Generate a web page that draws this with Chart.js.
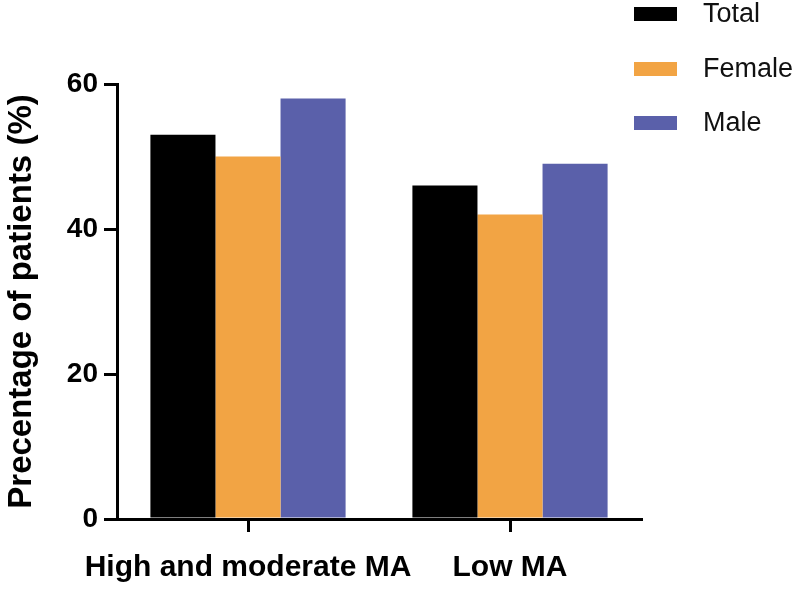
<!DOCTYPE html>
<html>
<head>
<meta charset="utf-8">
<script src="https://cdn.jsdelivr.net/npm/chart.js@4"></script>
<style>
  html, body { margin: 0; padding: 0; background: #fff; }
  #wrap { width: 800px; height: 589px; }
</style>
</head>
<body>
<div id="wrap"><canvas id="chart" width="800" height="589"></canvas></div>
<script>
// dados
const categories = ['High and moderate MA', 'Low MA'];
const seriesNames = ['Total', 'Female', 'Male'];
const totalValues = [53, 46];
const femaleValues = [50, 42];
const maleValues = [58, 49];
const yTicks = [0, 20, 40, 60];

const colors = ['#000000', '#F2A444', '#5A60AA'];
const FONT = "'Liberation Sans', Arial, Helvetica, sans-serif";

// legenda vertical no canto superior direito
const sideLegend = {
    id: 'sideLegend',
    afterDraw(chart) {
        const ctx = chart.ctx;
        const rows = [14, 69, 123];
        ctx.save();
        chart.data.datasets.forEach((ds, i) => {
            const cy = rows[i];
            ctx.fillStyle = ds.backgroundColor;
            ctx.fillRect(634, cy - 7, 43, 14);
            ctx.fillStyle = '#111';
            ctx.font = '27px ' + FONT;
            ctx.textBaseline = 'middle';
            ctx.textAlign = 'left';
            ctx.fillText(ds.label, 703, cy + 1);
        });
        ctx.restore();
    }
};

const ctx = document.getElementById('chart').getContext('2d');
new Chart(ctx, {
    type: 'bar',
    data: {
        labels: categories,
        datasets: [
            { label: seriesNames[0], data: totalValues, backgroundColor: colors[0] },
            { label: seriesNames[1], data: femaleValues, backgroundColor: colors[1] },
            { label: seriesNames[2], data: maleValues, backgroundColor: colors[2] }
        ]
    },
    options: {
        responsive: false,
        animation: false,
        layout: { padding: { top: 84, right: 159, bottom: 0, left: 0 } },
        datasets: {
            bar: { barPercentage: 1.0, categoryPercentage: 0.745, borderWidth: 0 }
        },
        plugins: {
            legend: { display: false },
            tooltip: { enabled: false }
        },
        scales: {
            x: {
                grid: {
                    offset: false,
                    drawOnChartArea: false,
                    drawTicks: true,
                    tickLength: 13,
                    color: '#000',
                    lineWidth: 3
                },
                border: { display: true, color: '#000', width: 3 },
                ticks: {
                    color: '#000',
                    padding: 18,
                    autoSkip: false,
                    font: { family: FONT, size: 30, weight: 'bold' },
                    maxRotation: 0
                },
                afterFit(scale) { scale.height = 70; }
            },
            y: {
                min: 0,
                max: 60,
                afterBuildTicks(scale) { scale.ticks = yTicks.map(v => ({ value: v })); },
                grid: {
                    drawOnChartArea: false,
                    drawTicks: true,
                    tickLength: 13,
                    color: '#000',
                    lineWidth: 3
                },
                border: { display: true, color: '#000', width: 3 },
                ticks: {
                    color: '#000',
                    padding: 6,
                    font: { family: FONT, size: 28, weight: 'bold' }
                },
                title: {
                    display: true,
                    text: 'Precentage of patients (%)',
                    color: '#000',
                    padding: { top: 2, bottom: 0 },
                    font: { family: FONT, size: 33, weight: 'bold' }
                },
                afterFit(scale) { scale.width = 117; }
            }
        }
    },
    plugins: [sideLegend]
});
</script>
</body>
</html>
